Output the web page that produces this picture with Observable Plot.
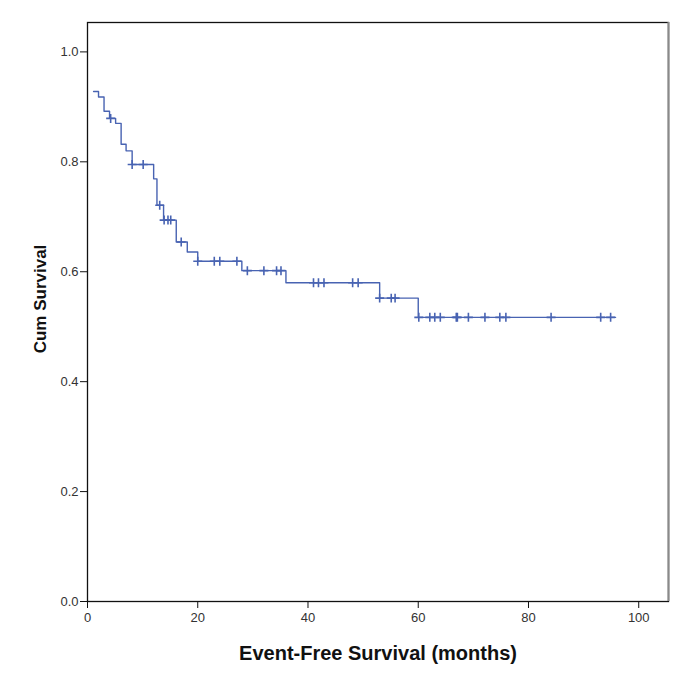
<!DOCTYPE html>
<html>
<head>
<meta charset="utf-8">
<script src="https://cdn.jsdelivr.net/npm/d3@7"></script>
<script src="https://cdn.jsdelivr.net/npm/@observablehq/plot@0.6"></script>
<style>
  html, body { margin: 0; padding: 0; background: #fff; }
</style>
</head>
<body>
<div id="chart"></div>
<script>
// Kaplan–Meier steps: time (months) at which cumulative survival changes, and new value
const stepTimes    = [1.1, 2.0, 3.0, 4.0, 5.1, 6.1, 7.0, 8.1, 12.0, 12.6, 13.8, 16.1, 18.1, 20.0, 28.0, 36.0, 53.0, 60.0];
const stepSurvival = [0.928, 0.918, 0.892, 0.879, 0.870, 0.832, 0.820, 0.795, 0.769, 0.721, 0.694, 0.654, 0.636, 0.619, 0.602, 0.580, 0.552, 0.517];
const lastFollowUp = 95.8;
// censored observations (months)
const censorTimes = [4.2, 8.1, 10.1, 13.1, 13.9, 14.6, 15.1, 17.0, 20.0, 23.0, 24.0, 27.1, 29.0, 32.0, 34.3, 35.1,
  41.0, 41.9, 42.9, 48.1, 49.1, 53.0, 55.1, 55.8, 60.1, 62.1, 63.0, 64.0, 66.9, 67.1, 69.1, 72.1, 74.8, 75.9, 84.1, 93.1, 94.9];
const xTicks = [0, 20, 40, 60, 80, 100];
const yTicks = [0, 0.2, 0.4, 0.6, 0.8, 1.0];
const xTitle = "Event-Free Survival (months)";
const yTitle = "Cum Survival";
const xMax = 105.4;
const yMax = 1.0535;

const curve = stepTimes.map((t, i) => ({t, s: stepSurvival[i]}));
curve.push({t: lastFollowUp, s: stepSurvival[stepSurvival.length - 1]});

function survivalAt(t) {
  let s = stepSurvival[0];
  for (let i = 0; i < stepTimes.length; i++) if (stepTimes[i] <= t) s = stepSurvival[i];
  return s;
}
const censored = censorTimes.map(t => ({t, s: survivalAt(t)}));

const lineColor = "#4863b2";

const chart = Plot.plot({
  width: 685,
  height: 674,
  marginTop: 22,
  marginRight: 17,
  marginBottom: 73,
  marginLeft: 87,
  style: {fontFamily: "'Liberation Sans', Arial, sans-serif", fontSize: "13px", color: "#333", background: "#fff"},
  x: {domain: [0, xMax]},
  y: {domain: [0, yMax]},
  marks: [
    Plot.frame({stroke: "#111", strokeWidth: 1.3}),
    Plot.ruleX([xMax], {stroke: "#8a8a8a", strokeWidth: 2}),
    Plot.axisX({ticks: xTicks, tickSize: 7, tickPadding: 4, label: null, tickFormat: d => String(d), stroke: "#111"}),
    Plot.axisY({ticks: yTicks, tickSize: 7, tickPadding: 2, label: null, tickFormat: d3.format(".1f"), stroke: "#111"}),
    Plot.line(curve, {x: "t", y: "s", curve: "step-after", stroke: lineColor, strokeWidth: 1.4}),
    Plot.dot(censored, {x: "t", y: "s", symbol: "plus", r: 3, stroke: lineColor, strokeWidth: 1.6}),
    Plot.text([xTitle], {frameAnchor: "bottom", dy: 52, fontSize: 20, fontWeight: "bold", fill: "#111", textAnchor: "middle", lineAnchor: "middle"}),
    Plot.text([yTitle], {frameAnchor: "left", dx: -47, dy: -13, rotate: -90, fontSize: 17, fontWeight: "bold", fill: "#111", textAnchor: "middle", lineAnchor: "middle"})
  ]
});
document.getElementById("chart").append(chart);
</script>
</body>
</html>
